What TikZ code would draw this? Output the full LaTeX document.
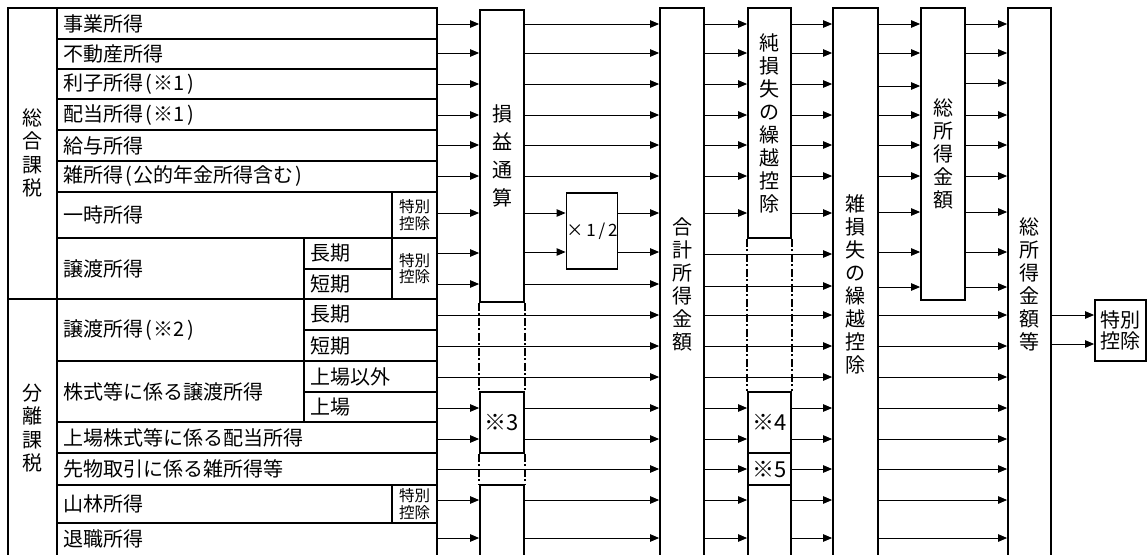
\documentclass[tikz,border=0pt]{standalone}
\usepackage{fontspec}
\setmainfont{Noto Sans CJK JP}
\usetikzlibrary{arrows.meta}
\newcommand\jlp{\kern2.5pt(\kern1.5pt}
\newcommand\jrp{\kern2pt)}
\begin{document}
\begin{tikzpicture}[x=1pt,y=-1pt,
  tl/.style={line width=1.8pt},
  bx/.style={draw, line width=1.8pt, inner sep=0pt, align=center, font=\fontsize{20}{23}\selectfont},
  lbl/.style={anchor=west, inner sep=0pt, font=\fontsize{20}{23}\selectfont},
  vlbl/.style={inner sep=0pt, align=center, font=\fontsize{20}{23.3}\selectfont},
  sm/.style={inner sep=0pt, align=center, font=\fontsize{15.5}{16.5}\selectfont},
  arr/.style={line width=0.9pt, -{Triangle[length=9pt,width=7.5pt]}},
  dd/.style={line width=1.8pt, dash pattern=on 8pt off 2.5pt on 2pt off 2.5pt}]
\useasboundingbox (0,0) rectangle (1147,554);
\clip (0,0) rectangle (1147,554);
% ---- table ----
\draw[tl] (8,8) rectangle (437,560);
\draw[tl] (57,8) -- (57,560);
\foreach \y in {39,69,99,130,161,192,238,361,422,453,485,523}
  \draw[tl] (57,\y) -- (437,\y);
\draw[tl] (8,299) -- (437,299);
\draw[tl] (392,192) -- (392,299);
\draw[tl] (392,485) -- (392,523);
\draw[tl] (304,238) -- (304,422);
\draw[tl] (304,269) -- (392,269);
\draw[tl] (304,330) -- (437,330);
\draw[tl] (304,392) -- (437,392);
\node[vlbl] (sogo) at (32.5,153) {総\\合\\課\\税};
\node[vlbl] (bunri) at (32.5,428) {分\\離\\課\\税};
\node[lbl] (r1) at (63,23.5) {事業所得};
\node[lbl] (r2) at (63,54) {不動産所得};
\node[lbl] (r3) at (63,84) {利子所得\jlp ※1\jrp};
\node[lbl] (r4) at (63,115) {配当所得\jlp ※1\jrp};
\node[lbl] (r5) at (63,145.5) {給与所得};
\node[lbl] (r6) at (63,176.5) {雑所得\jlp 公的年金所得含む\jrp};
\node[lbl] (r7) at (63,215) {一時所得};
\node[lbl] (r8) at (63,268.5) {譲渡所得};
\node[lbl] (r8a) at (310,253.5) {長期};
\node[lbl] (r8b) at (310,284) {短期};
\node[lbl] (r9) at (63,330) {譲渡所得\jlp ※2\jrp};
\node[lbl] (r9a) at (310,314.5) {長期};
\node[lbl] (r9b) at (310,345.5) {短期};
\node[lbl] (r10) at (63,391.5) {株式等に係る譲渡所得};
\node[lbl] (r10a) at (310,376.5) {上場以外};
\node[lbl] (r10b) at (310,407) {上場};
\node[lbl] (r11) at (63,437.5) {上場株式等に係る配当所得};
\node[lbl] (r12) at (63,469) {先物取引に係る雑所得等};
\node[lbl] (r13) at (63,504) {山林所得};
\node[lbl] (r14) at (63,538.5) {退職所得};
\node[sm] (t1) at (414.5,215) {特別\\控除};
\node[sm] (t2) at (414.5,268.5) {特別\\控除};
\node[sm] (t3) at (414.5,504) {特別\\控除};
\coordinate (tabR) at (437,0);
% ---- boxes ----
\node[bx, minimum width=44pt, minimum height=292pt, font=\fontsize{20}{28}\selectfont] (son) at (502,156) {損\\益\\通\\算};
\node[bx, minimum width=44pt, minimum height=61pt, font=\fontsize{22}{24}\selectfont] (k3) at (502,422.5) {※3};
\node[bx, minimum width=44pt, minimum height=75pt] (sonB) at (502,522.5) {};
\node[bx, minimum width=50pt, minimum height=76pt, font=\fontsize{17}{18}\selectfont] (half) at (592,231) {×\,1\,/\,2};
\node[bx, minimum width=44pt, minimum height=552pt] (gokei) at (682,284) {合\\計\\所\\得\\金\\額};
\node[bx, minimum width=43pt, minimum height=230pt] (jun) at (769.5,123) {純\\損\\失\\の\\繰\\越\\控\\除};
\node[bx, minimum width=43pt, minimum height=61pt, font=\fontsize{22}{24}\selectfont] (k4) at (769.5,422.5) {※4};
\node[bx, minimum width=43pt, minimum height=32pt, font=\fontsize{22}{24}\selectfont] (k5) at (769.5,469) {※5};
\node[bx, minimum width=43pt, minimum height=75pt] (junB) at (769.5,522.5) {};
\node[bx, minimum width=45pt, minimum height=552pt] (zatsu) at (855.5,284) {雑\\損\\失\\の\\繰\\越\\控\\除};
\node[bx, minimum width=44pt, minimum height=292pt] (sou) at (943,154) {総\\所\\得\\金\\額};
\node[bx, minimum width=43pt, minimum height=552pt] (soutou) at (1029.5,284) {総\\所\\得\\金\\額\\等};
\node[bx, minimum width=51pt, minimum height=61pt, font=\fontsize{20}{21}\selectfont] (toku) at (1120.5,330.5) {特別\\控除};
% ---- dashed continuations ----
\draw[dd] (son.south west) -- (k3.north west);
\draw[dd] (son.south east) -- (k3.north east);
\draw[dd] (k3.south west) -- (sonB.north west);
\draw[dd] (k3.south east) -- (sonB.north east);
\draw[dd] (jun.south west) -- (k4.north west);
\draw[dd] (jun.south east) -- (k4.north east);
% ---- arrows ----
\foreach \y in {24,53,84,115,145,176,213,253,284}
  \draw[arr] (tabR |- 0,\y) -- (son.west |- 0,\y);
\foreach \y in {408,439}
  \draw[arr] (tabR |- 0,\y) -- (k3.west |- 0,\y);
\foreach \y in {500,538}
  \draw[arr] (tabR |- 0,\y) -- (sonB.west |- 0,\y);
\foreach \y in {315,346,377,469}
  \draw[arr] (tabR |- 0,\y) -- (gokei.west |- 0,\y);
\foreach \y in {24,53,84,115,145,176,284}
  \draw[arr] (son.east |- 0,\y) -- (gokei.west |- 0,\y);
\foreach \y in {213,252}{
  \draw[arr] (son.east |- 0,\y) -- (half.west |- 0,\y);
  \draw[arr] (half.east |- 0,\y) -- (gokei.west |- 0,\y);}
\foreach \y in {408,439}
  \draw[arr] (k3.east |- 0,\y) -- (gokei.west |- 0,\y);
\foreach \y in {500,538}
  \draw[arr] (sonB.east |- 0,\y) -- (gokei.west |- 0,\y);
\foreach \y in {24,53,84,115,145,176,213}
  \draw[arr] (gokei.east |- 0,\y) -- (jun.west |- 0,\y);
\foreach \y in {254,286,315,346,377}
  \draw[arr] (gokei.east |- 0,\y) -- (zatsu.west |- 0,\y);
\foreach \y in {408,439}
  \draw[arr] (gokei.east |- 0,\y) -- (k4.west |- 0,\y);
\draw[arr] (gokei.east |- 0,469) -- (k5.west |- 0,469);
\foreach \y in {500,538}
  \draw[arr] (gokei.east |- 0,\y) -- (junB.west |- 0,\y);
\foreach \y in {24,53,84,115,145,176,213}
  \draw[arr] (jun.east |- 0,\y) -- (zatsu.west |- 0,\y);
\foreach \y in {408,439}
  \draw[arr] (k4.east |- 0,\y) -- (zatsu.west |- 0,\y);
\draw[arr] (k5.east |- 0,469) -- (zatsu.west |- 0,469);
\foreach \y in {500,538}
  \draw[arr] (junB.east |- 0,\y) -- (zatsu.west |- 0,\y);
\foreach \y in {24,53,86,115,145,176,212,252,287}
  \draw[arr] (zatsu.east |- 0,\y) -- (sou.west |- 0,\y);
\foreach \y in {315,346,377,408,439,469,500,538}
  \draw[arr] (zatsu.east |- 0,\y) -- (soutou.west |- 0,\y);
\foreach \y in {24,53,83,115,145,176,212,252,287}
  \draw[arr] (sou.east |- 0,\y) -- (soutou.west |- 0,\y);
\foreach \y in {315,344}
  \draw[arr] (soutou.east |- 0,\y) -- (toku.west |- 0,\y);
\end{tikzpicture}
\end{document}
